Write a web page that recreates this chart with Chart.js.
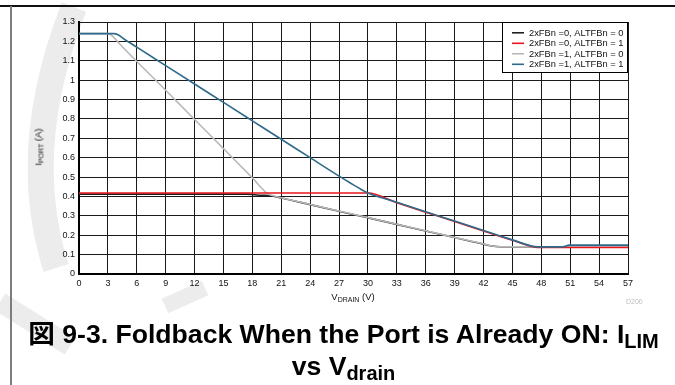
<!DOCTYPE html>
<html>
<head>
<meta charset="utf-8">
<script src="https://cdn.jsdelivr.net/npm/chart.js@4/dist/chart.umd.min.js"></script>
<style>
  html, body { margin: 0; padding: 0; background: #fff; }
  #page { position: relative; width: 675px; height: 385px; overflow: hidden;
          font-family: "Liberation Sans", Arial, "Noto Sans CJK JP", sans-serif; }
  #wm { position: absolute; left: 0; top: 0; }
  #frameTop { position: absolute; left: 0; top: 5px; width: 675px; height: 2px; background: #111; }
  #frameLeft { position: absolute; left: 10px; top: 6px; width: 2px; height: 379px; background: #7d7d7d; }
  #chart { position: absolute; left: 0; top: 0; }
  .ytitle { position: absolute; left: 38px; top: 147px; transform: translate(-50%, -50%) rotate(-90deg);
            font-size: 9.5px; color: #111; white-space: nowrap; }
  .xtitle { position: absolute; left: 353px; top: 296px; transform: translate(-50%, -50%);
            font-size: 9.5px; color: #111; white-space: nowrap; }
  .sm { font-size: 7px; position: relative; top: 2px; }
  .code { position: absolute; left: 626px; top: 298px; font-size: 7px; color: #bdbdbd; }
  .caption { position: absolute; left: 12px; width: 663px; text-align: center; font-weight: bold;
             font-size: 26.6px; line-height: 32px; color: #000; white-space: nowrap; }
  .caption .sub { font-size: 20px; position: relative; top: 5px; }
</style>
</head>
<body>
<div id="page">
  <svg id="wm" width="675" height="385">
    <g fill="none" stroke="#ececec" stroke-linecap="butt">
      <path d="M 74 7 Q 18 150 56 268" stroke-width="26"/>
      <path d="M 0 302 L 70 346" stroke-width="20"/>
      <path d="M 165 306 L 205 288" stroke-width="16"/>
    </g>
  </svg>
  <div id="frameTop"></div>
  <div id="frameLeft"></div>
  <canvas id="chart" width="675" height="385"></canvas>
  <div class="ytitle">I<span class="sm">PORT</span> (A)</div>
  <div class="xtitle">V<span class="sm">DRAIN</span> (V)</div>
  <div class="code">D200</div>
  <div class="caption" style="top:318px;">図 9-3. Foldback When the Port is Already ON: I<span class="sub">LIM</span></div>
  <div class="caption" style="top:350px;">vs V<span class="sub">drain</span></div>
</div>
<script>
// Axis ticks
const xTickValues = [0, 3, 6, 9, 12, 15, 18, 21, 24, 27, 30, 33, 36, 39, 42, 45, 48, 51, 54, 57];
const yTickLabels = ['0', '0.1', '0.2', '0.3', '0.4', '0.5', '0.6', '0.7', '0.8', '0.9', '1', '1.1', '1.2', '1.3'];

// Series labels
const seriesNames = [
  '2xFBn =0, ALTFBn = 0',
  '2xFBn =0, ALTFBn = 1',
  '2xFBn =1, ALTFBn = 0',
  '2xFBn =1, ALTFBn = 1'
];

// 2xFBn = 0, ALTFBn = 0
const vBlack = [0, 17.4, 18.2, 19.0, 19.7, 21, 24, 27, 30, 33, 36, 39, 42, 43.3, 44.3, 57];
const iBlack = [0.412, 0.412, 0.409, 0.406, 0.405, 0.392, 0.358, 0.324, 0.290, 0.256, 0.222, 0.188, 0.154, 0.142, 0.14, 0.14];

// 2xFBn = 0, ALTFBn = 1
const vRed = [0, 30, 33, 36, 39, 42, 45, 46.8, 47.6, 57];
const iRed = [0.418, 0.418, 0.368, 0.319, 0.271, 0.222, 0.174, 0.145, 0.137, 0.137];

// 2xFBn = 1, ALTFBn = 0
const vGray = [0, 3.0, 3.5, 4.2, 9, 12, 15, 18, 19.6, 20.3, 21, 24, 27, 30, 33, 36, 39, 42, 43.3, 44.3, 57];
const iGray = [1.24, 1.24, 1.226, 1.188, 0.948, 0.797, 0.647, 0.496, 0.414, 0.402, 0.393, 0.359, 0.325, 0.291, 0.257, 0.223, 0.189, 0.155, 0.142, 0.14, 0.14];

// 2xFBn = 1, ALTFBn = 1
const vTeal = [0, 3.6, 4.1, 4.6, 6, 9, 12, 15, 18, 21, 24, 27, 28.5, 29.3, 30, 33, 36, 39, 42, 45, 46.8, 47.6, 50.2, 50.9, 57];
const iTeal = [1.24, 1.24, 1.233, 1.215, 1.170, 1.075, 0.980, 0.885, 0.790, 0.695, 0.600, 0.505, 0.460, 0.436, 0.418, 0.370, 0.321, 0.273, 0.224, 0.176, 0.147, 0.14, 0.14, 0.149, 0.149];

const seriesColors = ['#231f20', '#e8161d', '#b9b9b9', '#2f6a8a'];
// Later datasets sit on top: black lowest, teal highest
const drawOrder = [4, 2, 3, 1];

function pairs(xs, ys) { return xs.map((x, i) => ({ x: x, y: ys[i] })); }
const seriesData = [pairs(vBlack, iBlack), pairs(vRed, iRed), pairs(vGray, iGray), pairs(vTeal, iTeal)];

const datasets = seriesNames.map((name, k) => ({
  label: name,
  data: seriesData[k],
  borderColor: seriesColors[k],
  backgroundColor: seriesColors[k],
  borderWidth: 1.6,
  pointRadius: 0,
  cubicInterpolationMode: 'monotone',
  fill: false,
  order: drawOrder[k]
}));

// Legend box drawn inside the top-right corner of the plot
const insetLegend = {
  id: 'insetLegend',
  afterDatasetsDraw(chart) {
    const ctx = chart.ctx;
    const a = chart.chartArea;
    const w = 126, h = 51;
    const x0 = a.right - w, y0 = a.top;
    ctx.save();
    ctx.fillStyle = '#fff';
    ctx.fillRect(x0, y0, w, h);
    ctx.strokeStyle = '#000';
    ctx.lineWidth = 1;
    ctx.strokeRect(x0 + 0.5, y0 + 0.5, w - 1, h - 1);
    ctx.font = '9.3px "Liberation Sans", Arial, sans-serif';
    ctx.textBaseline = 'middle';
    chart.data.datasets.forEach((ds, i) => {
      const yy = y0 + 10.8 + i * 10.5;
      ctx.strokeStyle = ds.borderColor;
      ctx.lineWidth = 1.6;
      ctx.beginPath();
      ctx.moveTo(x0 + 10, yy);
      ctx.lineTo(x0 + 22, yy);
      ctx.stroke();
      ctx.fillStyle = '#111';
      ctx.fillText(ds.label, x0 + 27, yy + 0.5);
    });
    ctx.restore();
  }
};

new Chart(document.getElementById('chart'), {
  type: 'line',
  data: { datasets: datasets },
  options: {
    responsive: false,
    animation: false,
    devicePixelRatio: 1,
    layout: { padding: { left: 0, right: 47, top: 22, bottom: 0 } },
    plugins: { legend: { display: false }, tooltip: { enabled: false } },
    scales: {
      x: {
        type: 'linear',
        min: 0, max: 57,
        afterBuildTicks(scale) { scale.ticks = xTickValues.map(v => ({ value: v })); },
        afterFit(scale) { scale.height = 111; },
        ticks: {
          color: '#111',
          font: { family: '"Liberation Sans", Arial, sans-serif', size: 9 },
          padding: 4,
          maxRotation: 0,
          autoSkip: false,
          callback: (v) => String(v)
        },
        grid: { color: '#1a1a1a', lineWidth: 1, drawTicks: false },
        border: { color: '#000', width: 2 }
      },
      y: {
        type: 'linear',
        min: 0, max: 1.3,
        afterBuildTicks(scale) { scale.ticks = yTickLabels.map(s => ({ value: parseFloat(s) })); },
        afterFit(scale) { scale.width = 79; },
        ticks: {
          color: '#111',
          font: { family: '"Liberation Sans", Arial, sans-serif', size: 9 },
          padding: 4,
          autoSkip: false,
          callback: (v, i) => yTickLabels[i]
        },
        grid: { color: '#1a1a1a', lineWidth: 1, drawTicks: false },
        border: { color: '#000', width: 2 }
      }
    }
  },
  plugins: [insetLegend]
});
</script>
</body>
</html>
